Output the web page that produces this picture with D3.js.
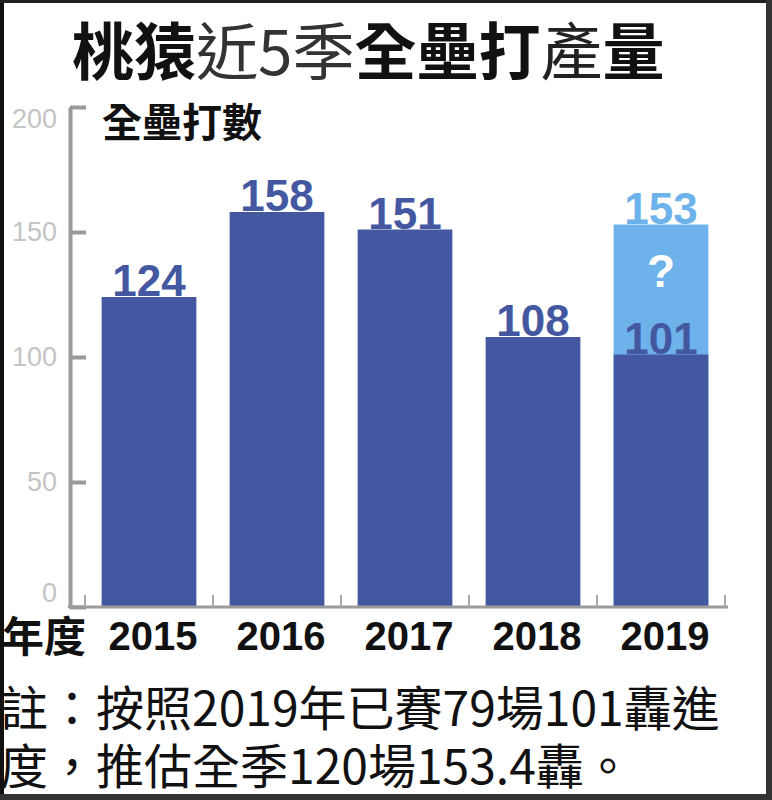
<!DOCTYPE html>
<html>
<head>
<meta charset="utf-8">
<script src="https://cdn.jsdelivr.net/npm/d3@7.9.0/dist/d3.min.js"></script>
<style>
  body { margin: 0; background: #fff; }
  svg { display: block; }
</style>
</head>
<body>
<div id="chart"></div>
<script>
const years = ["2015", "2016", "2017", "2018", "2019"];
const homers = [124, 158, 151, 108, 101];
const projected = [null, null, null, null, 153];
const yTicks = [0, 50, 100, 150, 200];
const noteLines = ["註：按照2019年已賽79場101轟進", "度，推估全季120場153.4轟。"];

const W = 772, H = 800;
const dark = "#4458a2", light = "#6db2ea";
const cjk = "'Noto Sans CJK TC', 'Noto Sans CJK SC', sans-serif";
const latin = "'Liberation Sans', Arial, sans-serif";

const svg = d3.select("#chart")
  .append("svg")
    .attr("width", W)
    .attr("height", H);

// Title
const title = svg.append("text")
  .attr("x", 72)
  .attr("y", 75)
  .attr("font-family", cjk)
  .attr("font-size", 62)
  .attr("fill", "#111");
title.append("tspan").attr("font-weight", 700).text("桃猿");
title.append("tspan").attr("font-weight", 400).attr("fill", "#333").text("近5季");
title.append("tspan").attr("font-weight", 700).text("全壘打");
title.append("tspan").attr("font-weight", 400).attr("fill", "#222").text("產");
title.append("tspan").attr("font-weight", 700).text("量");

// Scales
const x = d3.scaleBand()
  .domain(years)
  .range([85, 725])
  .paddingInner(0.26)
  .paddingOuter(0.13);

const y = d3.scaleLinear()
  .domain([0, 200])
  .range([607, 107]);

// Y axis, ticks pointing right
const yAxis = svg.append("g")
  .attr("transform", "translate(70,0)")
  .call(d3.axisLeft(y).tickValues(yTicks).tickSize(-16).tickSizeOuter(0).tickPadding(13));
yAxis.select(".domain").attr("stroke", "#9a9a9a").attr("stroke-width", 4);
yAxis.selectAll(".tick line").attr("stroke", "#9a9a9a").attr("stroke-width", 4);
yAxis.selectAll(".tick text")
  .attr("font-family", latin)
  .attr("font-size", 27)
  .attr("fill", "#c4c4c4")
  .attr("dy", d => d === 200 ? "0.75em" : d === 0 ? "-0.2em" : "0.32em");

// Subtitle
svg.append("text")
  .attr("x", 102)
  .attr("y", 137)
  .attr("font-family", cjk)
  .attr("font-weight", 700)
  .attr("font-size", 40)
  .attr("fill", "#111")
  .text("全壘打數");

// Projected (light) bars
svg.selectAll(".proj")
  .data(d3.zip(years, projected).filter(([, p]) => p !== null))
  .join("rect")
    .attr("class", "proj")
    .attr("x", ([yr]) => x(yr))
    .attr("y", ([, p]) => y(p))
    .attr("width", x.bandwidth())
    .attr("height", ([, p]) => y(0) - y(p))
    .attr("fill", light);

// Actual bars
svg.selectAll(".bar")
  .data(d3.zip(years, homers))
  .join("rect")
    .attr("class", "bar")
    .attr("x", ([yr]) => x(yr))
    .attr("y", ([, v]) => y(v))
    .attr("width", x.bandwidth())
    .attr("height", ([, v]) => y(0) - y(v))
    .attr("fill", dark);

// X baseline and category ticks
svg.append("line")
  .attr("x1", 68).attr("x2", 728)
  .attr("y1", y(0)).attr("y2", y(0))
  .attr("stroke", "#9a9a9a")
  .attr("stroke-width", 3);

const gap = x.step() * x.paddingInner() / 2;
const bounds = years.map(yr => x(yr) - gap).concat([x(years[years.length - 1]) + x.bandwidth() + gap]);
svg.selectAll(".cat-tick")
  .data(bounds)
  .join("line")
    .attr("class", "cat-tick")
    .attr("x1", d => d).attr("x2", d => d)
    .attr("y1", y(0)).attr("y2", y(0) - 12)
    .attr("stroke", "#aaa")
    .attr("stroke-width", 2);

// Value labels
svg.selectAll(".val")
  .data(d3.zip(years, homers))
  .join("text")
    .attr("class", "val")
    .attr("x", ([yr]) => x(yr) + x.bandwidth() / 2)
    .attr("y", ([, v]) => y(v) - 1)
    .attr("text-anchor", "middle")
    .attr("font-family", latin)
    .attr("font-weight", 700)
    .attr("font-size", 44)
    .attr("fill", dark)
    .text(([, v]) => v);

const projData = d3.zip(years, homers, projected).filter(([, , p]) => p !== null);
svg.selectAll(".pval")
  .data(projData)
  .join("text")
    .attr("class", "pval")
    .attr("x", ([yr]) => x(yr) + x.bandwidth() / 2)
    .attr("y", ([, , p]) => y(p) - 1)
    .attr("text-anchor", "middle")
    .attr("font-family", latin)
    .attr("font-weight", 700)
    .attr("font-size", 44)
    .attr("fill", light)
    .text(([, , p]) => p);

svg.selectAll(".qmark")
  .data(projData)
  .join("text")
    .attr("class", "qmark")
    .attr("x", ([yr]) => x(yr) + x.bandwidth() / 2)
    .attr("y", ([, v, p]) => (y(p) + y(v)) / 2 - 19)
    .attr("dy", "0.36em")
    .attr("text-anchor", "middle")
    .attr("font-family", latin)
    .attr("font-weight", 700)
    .attr("font-size", 46)
    .attr("fill", "#fff")
    .text("?");

// X labels
svg.append("text")
  .attr("x", 2)
  .attr("y", 652)
  .attr("font-family", cjk)
  .attr("font-weight", 700)
  .attr("font-size", 42)
  .attr("fill", "#111")
  .text("年度");

svg.selectAll(".year")
  .data(years)
  .join("text")
    .attr("class", "year")
    .attr("x", d => x(d) + x.bandwidth() / 2 + 4)
    .attr("y", 650)
    .attr("text-anchor", "middle")
    .attr("font-family", latin)
    .attr("font-weight", 700)
    .attr("font-size", 40)
    .attr("fill", "#111")
    .text(d => d);

// Note
svg.selectAll(".note")
  .data(noteLines)
  .join("text")
    .attr("class", "note")
    .attr("x", 0)
    .attr("y", (d, i) => 726 + i * 58)
    .attr("font-family", cjk)
    .attr("font-size", 48)
    .attr("fill", "#111")
    .text(d => d);

// Frame
svg.append("rect").attr("x", 0).attr("y", 0).attr("width", 4).attr("height", H).attr("fill", "#111");
svg.append("rect").attr("x", 0).attr("y", 0).attr("width", W).attr("height", 3).attr("fill", "#222");
svg.append("rect").attr("x", W - 6).attr("y", 0).attr("width", 6).attr("height", H).attr("fill", "#333");
svg.append("rect").attr("x", 0).attr("y", H - 6).attr("width", W).attr("height", 6).attr("fill", "#333");
</script>
</body>
</html>
